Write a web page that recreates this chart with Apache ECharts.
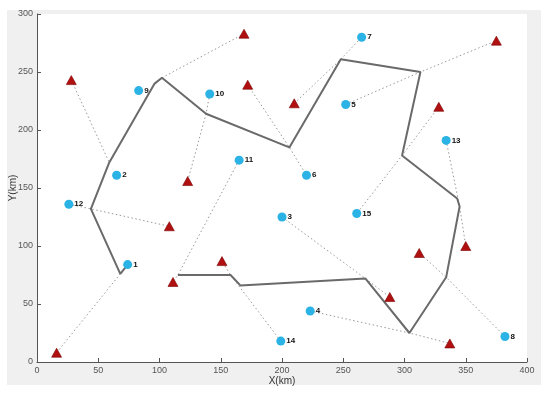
<!DOCTYPE html>
<html>
<head>
<meta charset="utf-8">
<script src="https://cdn.jsdelivr.net/npm/echarts@6/dist/echarts.min.js"></script>
<style>html,body{margin:0;padding:0;background:#fff;}#c{width:550px;height:395px;}</style>
</head>
<body>
<div id="c"></div>
<script>
// Customers (blue circles) with ids
var customerIds = ['1','2','3','4','5','6','7','8','9','10','11','12','13','14','15'];
var customerX = [74, 65, 200, 223, 252, 220, 265, 382, 83, 141, 165, 26, 334, 199, 261];
var customerY = [84, 161, 125, 44, 222, 161, 280, 22, 234, 231, 174, 136, 191, 18, 128];

// Facilities (red triangles)
var siteX = [169, 28, 172, 210, 123, 108, 111, 16, 151, 288, 337, 312, 350, 328, 375];
var siteY = [283, 243, 239, 223, 156, 117, 69, 8, 87, 56, 16, 94, 100, 220, 277];

// Vehicle route (thick grey line)
var routeX = [74, 68, 44, 59, 96, 102, 138, 206, 248, 313, 298, 343, 345, 334, 304, 268, 166, 158, 115];
var routeY = [84, 76, 132, 172, 240, 245, 214, 185, 261, 250, 178, 141, 134, 73, 25, 72, 66, 75, 75];

// Dotted links: [x list], [y list]
var linkXs = [
  [16, 68], [26, 44, 108], [28, 59], [102, 169], [141, 138, 123],
  [172, 206, 220], [210, 248, 265], [252, 313, 375], [328, 298, 261],
  [334, 345, 350], [382, 334, 312], [223, 304, 337], [200, 268, 288],
  [199, 158, 151], [165, 115, 111]
];
var linkYs = [
  [8, 76], [136, 132, 117], [243, 172], [245, 283], [231, 214, 156],
  [239, 185, 161], [223, 261, 280], [222, 250, 277], [220, 178, 128],
  [191, 134, 100], [22, 73, 94], [44, 25, 16], [125, 72, 56],
  [18, 75, 87], [174, 75, 69]
];

var xTicks = [0, 50, 100, 150, 200, 250, 300, 350, 400];
var yTicks = [0, 50, 100, 150, 200, 250, 300];

var customers = customerX.map(function (x, i) { return [x, customerY[i], customerIds[i]]; });
var sites = siteX.map(function (x, i) { return [x, siteY[i]]; });
var route = routeX.map(function (x, i) { return [x, routeY[i]]; });
var links = linkXs.map(function (xs, i) {
  return { coords: xs.map(function (x, j) { return [x, linkYs[i][j]]; }) };
});

var chart = echarts.init(document.getElementById('c'), null, { renderer: 'canvas' });
var font = 'Liberation Sans, Arial, Helvetica, sans-serif';
chart.setOption({
  backgroundColor: '#ffffff',
  animation: false,
  graphic: [{
    type: 'rect', z: -10, silent: true,
    shape: { x: 7, y: 10, width: 534, height: 375 },
    style: { fill: '#f0f0f0' }
  }],
  grid: { left: 37, right: 23, top: 14, bottom: 33, containLabel: false, outerBoundsMode: 'none',
    show: true, backgroundColor: '#ffffff', borderWidth: 0 },
  xAxis: {
    type: 'value', min: 0, max: 400, interval: 50,
    name: 'X(km)', nameLocation: 'middle', nameGap: 14, nameMoveOverlap: false,
    nameTextStyle: { fontFamily: font, fontSize: 10, color: '#333' },
    axisLine: { show: true, onZero: false, lineStyle: { color: '#555', width: 1 } },
    axisTick: { show: true, inside: true, length: 4, lineStyle: { color: '#555' } },
    axisLabel: { fontFamily: font, fontSize: 9, color: '#555', margin: 4,
      formatter: function (v) { return xTicks.indexOf(v) >= 0 ? String(v) : ''; } },
    splitLine: { show: false }
  },
  yAxis: {
    type: 'value', min: 0, max: 300, interval: 50,
    name: 'Y(km)', nameLocation: 'middle', nameGap: 19, nameRotate: 90, nameMoveOverlap: false,
    nameTextStyle: { fontFamily: font, fontSize: 10, color: '#333' },
    axisLine: { show: true, onZero: false, lineStyle: { color: '#555', width: 1 } },
    axisTick: { show: true, inside: true, length: 4, lineStyle: { color: '#555' } },
    axisLabel: { fontFamily: font, fontSize: 9, color: '#555', margin: 4,
      formatter: function (v) { return yTicks.indexOf(v) >= 0 ? String(v) : ''; } },
    splitLine: { show: false }
  },
  series: [
    {
      type: 'lines', coordinateSystem: 'cartesian2d', polyline: true, z: 1,
      silent: true,
      lineStyle: { color: '#9a9a9a', width: 1, type: [1.5, 2.5], opacity: 1 },
      data: links
    },
    {
      type: 'line', data: route, z: 2, symbol: 'none', silent: true,
      lineStyle: { color: '#6a6a6a', width: 2 }
    },
    {
      type: 'scatter', data: sites, z: 3, symbol: 'triangle', symbolSize: [10, 9],
      itemStyle: { color: '#b01010', borderColor: '#7a0000', borderWidth: 0.6, opacity: 1 }
    },
    {
      type: 'scatter', data: customers, z: 4, symbol: 'circle', symbolSize: 9,
      itemStyle: { color: '#2bb3e6', opacity: 1 },
      label: {
        show: true, position: 'right', distance: 1,
        formatter: function (p) { return p.data[2]; },
        fontFamily: font, fontSize: 8, fontWeight: 'bold', color: '#111'
      }
    }
  ]
});
</script>
</body>
</html>
